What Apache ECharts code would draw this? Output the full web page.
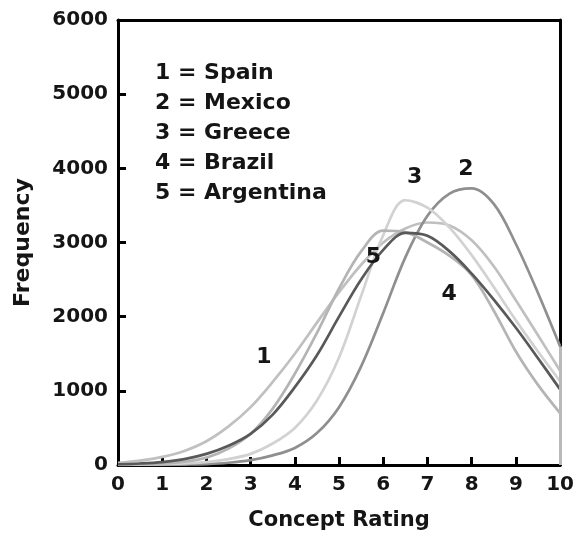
<!DOCTYPE html>
<html>
<head>
<meta charset="utf-8">
<script src="https://cdn.jsdelivr.net/npm/echarts@6/dist/echarts.min.js"></script>
<style>
html,body{margin:0;padding:0;background:#fff;}
#chart{width:577px;height:536px;}
</style>
</head>
<body>
<div id="chart"></div>
<script>
// Concept rating (x) sample points
const ratings = [0,0.5,1,1.5,2,2.5,3,3.5,4,4.5,5,5.5,6,6.5,7,7.5,8,8.5,9,9.5,10];
// Frequency per country
const spain     = [30,60,110,190,320,520,780,1120,1500,1920,2330,2700,3000,3190,3270,3230,3030,2680,2220,1750,1270];
const mexico    = [0,0,3,6,12,30,65,130,230,430,780,1330,2050,2800,3360,3660,3730,3520,2980,2320,1600];
const greece    = [0,5,10,20,40,80,150,290,500,870,1450,2280,3100,3570,3470,3200,2830,2400,1950,1530,1130];
const brazil    = [5,10,20,45,100,220,420,760,1230,1780,2380,2880,3160,3140,3000,2820,2560,2080,1530,1080,700];
const argentina = [10,20,40,80,150,260,420,680,1050,1480,2000,2500,2900,3130,3090,2880,2580,2230,1850,1440,1020];

const seriesNames = ['Spain','Mexico','Greece','Brazil','Argentina'];
const legendLines = ['1 = Spain','2 = Mexico','3 = Greece','4 = Brazil','5 = Argentina'];
// curve number labels: [rating, frequency, text]
const curveLabels = [[3.3,1450,'1'],[7.87,3990,'2'],[6.71,3880,'3'],[7.49,2300,'4'],[5.78,2800,'5']];
const xTicks = [0,1,2,3,4,5,6,7,8,9,10];
const yTicks = [0,1000,2000,3000,4000,5000,6000];

const colors = ['#c0c0c0','#8f8f8f','#d2d2d2','#b4b4b4','#595959'];
const allData = [spain, mexico, greece, brazil, argentina];

const chart = echarts.init(document.getElementById('chart'), null, {renderer:'canvas'});
const FONT = 'DejaVu Sans';
const lineSeries = allData.map((arr, i) => ({
  name: seriesNames[i],
  type: 'line',
  smooth: 0.35,
  showSymbol: false,
  symbol: 'none',
  z: i === 4 ? 4 : 3,
  lineStyle: {color: colors[i], width: 2.7},
  data: arr.map((v, j) => [ratings[j], v])
}));
// gray lower part of the right frame, under Mexico's end value
lineSeries[1].markLine = {
  silent: true, symbol: 'none', label: {show:false},
  lineStyle: {color:'#b9b9b9', width:3, type:'solid'},
  data: [[{coord:[xTicks[xTicks.length-1], mexico[mexico.length-1]]},{coord:[xTicks[xTicks.length-1], yTicks[0]]}]]
};

const plain = v => String(v);
const option = {
  animation: false,
  backgroundColor: '#fff',
  grid: {left:118, right:9, top:20, bottom:70, containLabel:false},
  xAxis: [{
    type:'value', min:xTicks[0], max:xTicks[xTicks.length-1], interval:1,
    axisLine:{show:true, onZero:false, lineStyle:{color:'#000', width:3}},
    axisTick:{show:true, inside:true, length:8, lineStyle:{color:'#000', width:3}},
    axisLabel:{fontFamily:FONT, fontWeight:'bold', fontSize:20, color:'#151515', margin:10, formatter:plain},
    splitLine:{show:false},
    name:'Concept Rating', nameLocation:'middle', nameGap:45,
    nameTextStyle:{fontFamily:FONT, fontWeight:'bold', fontSize:21, color:'#151515'}
  },{
    type:'value', position:'top', min:xTicks[0], max:xTicks[xTicks.length-1], interval:1,
    axisLine:{show:true, onZero:false, lineStyle:{color:'#000', width:3}},
    axisTick:{show:false}, axisLabel:{show:false}, splitLine:{show:false}
  }],
  yAxis: [{
    type:'value', min:yTicks[0], max:yTicks[yTicks.length-1], interval:1000,
    axisLine:{show:true, onZero:false, lineStyle:{color:'#000', width:3}},
    axisTick:{show:true, inside:true, length:8, lineStyle:{color:'#000', width:3}},
    axisLabel:{fontFamily:FONT, fontWeight:'bold', fontSize:20, color:'#151515', margin:10, formatter:plain},
    splitLine:{show:false},
    name:'Frequency', nameLocation:'middle', nameGap:84,
    nameTextStyle:{fontFamily:FONT, fontWeight:'bold', fontSize:22, color:'#151515'}
  },{
    type:'value', position:'right', min:yTicks[0], max:yTicks[yTicks.length-1], interval:1000,
    axisLine:{show:true, onZero:false, lineStyle:{color:'#000', width:3}},
    axisTick:{show:false}, axisLabel:{show:false}, splitLine:{show:false}
  }],
  graphic: [{
    type:'text', left:155, top:58, z:10,
    style:{text: legendLines.join('\n'), font:'bold 22px "DejaVu Sans"', fill:'#151515', lineHeight:30}
  }],
  series: lineSeries.concat([{
    type:'scatter', symbolSize:1, z:6, silent:true,
    itemStyle:{opacity:0},
    data: curveLabels,
    label:{show:true, position:'inside', formatter: p => p.data[2], opacity:1,
      fontFamily:FONT, fontWeight:'bold', fontSize:22, color:'#151515'},
    emphasis:{disabled:true}
  }])
};
chart.setOption(option);
</script>
</body>
</html>
